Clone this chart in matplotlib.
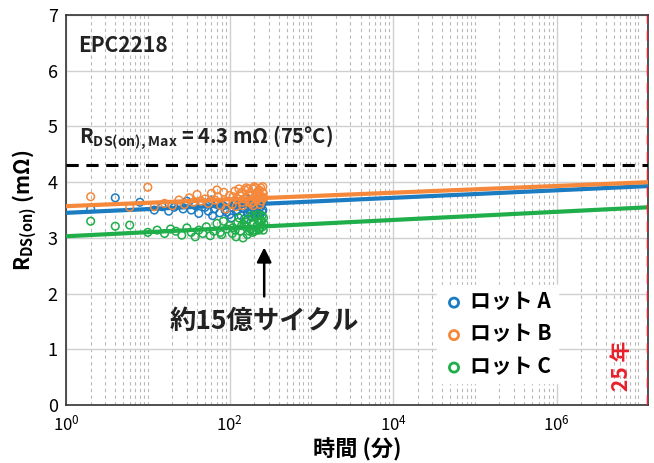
import matplotlib
matplotlib.use("Agg")
import matplotlib.pyplot as plt
from matplotlib.ticker import LogLocator, FixedLocator, NullFormatter

plt.rcParams['font.family'] = ['Noto Sans CJK JP', 'DejaVu Sans']
plt.rcParams['mathtext.default'] = 'regular'

# Measured data (time in minutes, RDS(on) in mOhm)
lot_a_x = [2, 4, 8, 12, 15, 18, 21, 24, 27, 30, 34, 38, 42, 46, 50, 55, 60, 65, 70, 76,
           82, 88, 95, 100, 108, 115, 122, 130, 138, 146, 155, 165, 175, 185, 195, 205, 215, 225, 235, 245,
           255, 62, 72, 92, 118, 142, 168, 198, 228, 250,
           105, 125, 135, 160, 180, 190, 210, 220, 240, 258, 112, 152, 172, 202, 232]
lot_a_y = [3.52, 3.72, 3.64, 3.50, 3.56, 3.48, 3.55, 3.60, 3.52, 3.66, 3.50, 3.58, 3.44, 3.62, 3.55, 3.48, 3.68, 3.52, 3.60, 3.45,
           3.58, 3.50, 3.64, 3.42, 3.55, 3.66, 3.48, 3.58, 3.40, 3.62, 3.52, 3.45, 3.60, 3.38, 3.55, 3.65, 3.48, 3.58, 3.42, 3.62,
           3.50, 3.40, 3.62, 3.46, 3.60, 3.54, 3.44, 3.66, 3.52, 3.47,
           3.36, 3.50, 3.64, 3.70, 3.46, 3.62, 3.38, 3.68, 3.56, 3.64, 3.60, 3.34, 3.52, 3.44, 3.70]

lot_b_x = [2, 6, 10, 12, 16, 20, 24, 28, 32, 36, 40, 45, 50, 55, 60, 66, 72, 78, 85, 92,
           100, 108, 116, 125, 134, 144, 154, 164, 174, 184, 194, 204, 214, 224, 234, 244, 254, 262, 150, 170,
           190, 210, 230, 250, 120, 90, 70,
           140, 160, 180, 200, 220, 240, 258, 145, 175, 205, 235, 255, 110, 130, 195, 215]
lot_b_y = [3.74, 3.55, 3.91, 3.56, 3.62, 3.58, 3.68, 3.60, 3.72, 3.64, 3.78, 3.66, 3.70, 3.62, 3.80, 3.68, 3.74, 3.58, 3.82, 3.66,
           3.76, 3.60, 3.84, 3.70, 3.78, 3.64, 3.86, 3.72, 3.80, 3.62, 3.88, 3.74, 3.68, 3.84, 3.76, 3.66, 3.82, 3.72, 3.70, 3.88,
           3.64, 3.80, 3.86, 3.74, 3.56, 3.52, 3.86,
           3.82, 3.90, 3.76, 3.92, 3.70, 3.90, 3.80, 3.58, 3.66, 3.90, 3.60, 3.92, 3.74, 3.88, 3.58, 3.78]

lot_c_x = [2, 4, 6, 10, 13, 16, 19, 22, 26, 30, 34, 38, 42, 47, 52, 58, 64, 70, 77, 84,
           92, 100, 108, 117, 126, 136, 146, 157, 168, 180, 192, 204, 216, 228, 240, 252, 262, 80, 110, 150,
           200, 245,
           130, 160, 175, 185, 195, 210, 220, 235, 250, 258, 140, 165, 225, 260, 120]
lot_c_y = [3.30, 3.21, 3.23, 3.10, 3.14, 3.08, 3.16, 3.12, 3.05, 3.18, 3.10, 3.02, 3.14, 3.08, 3.20, 3.04, 3.12, 3.26, 3.10, 3.30,
           3.16, 3.22, 3.08, 3.14, 3.28, 3.12, 3.00, 3.20, 3.34, 3.16, 3.10, 3.38, 3.22, 3.14, 3.32, 3.20, 3.26, 3.06, 3.18, 3.24,
           3.12, 3.30,
           3.36, 3.28, 3.12, 3.40, 3.24, 3.14, 3.42, 3.18, 3.40, 3.14, 3.22, 3.06, 3.30, 3.36, 3.02]

# Fitted trend lines (endpoints)
fit_x = [1, 1.314e7]
fit_a = [3.45, 3.93]
fit_b = [3.57, 4.00]
fit_c = [3.03, 3.55]

rds_max = 4.3
t_25years = 1.314e7
cycles_x = 265

blue = '#1b7cc2'
orange = '#f5883a'
green = '#1fae4a'
red = '#e8202a'

fig = plt.figure(figsize=(6.54, 4.63), dpi=100)
ax = fig.add_axes([0.101, 0.125, 0.89, 0.8426])

ax.set_xscale('log')
ax.set_xlim(1, t_25years)
ax.set_ylim(0, 7)

ax.xaxis.set_major_locator(FixedLocator([1, 1e2, 1e4, 1e6]))
ax.xaxis.set_minor_locator(LogLocator(base=10, subs=range(1, 10), numticks=30))
ax.xaxis.set_minor_formatter(NullFormatter())
ax.set_xticks([1, 1e2, 1e4, 1e6])
ax.set_xticklabels([r'$10^0$', r'$10^2$', r'$10^4$', r'$10^6$'])
ax.set_yticks(range(0, 8))
ax.tick_params(axis='both', which='both', length=0, labelsize=12)
ax.tick_params(axis='x', pad=7)
ax.tick_params(axis='y', labelsize=13, pad=6)

ax.grid(True, which='major', axis='both', color='#d0d0d0', lw=1.0)
ax.grid(True, which='minor', axis='x', color='#b8b8b8', lw=0.8, ls=(0, (3, 3)))
ax.set_axisbelow(True)
for s in ax.spines.values():
    s.set_color('#333333')
    s.set_linewidth(1.2)

mk = dict(marker='o', facecolors='none', s=30, linewidths=1.1)
ax.scatter(lot_a_x, lot_a_y, edgecolors=blue, zorder=3, **mk)
ax.scatter(lot_c_x, lot_c_y, edgecolors=green, zorder=3, **mk)
ax.plot(fit_x, fit_a, color=blue, lw=3, zorder=4)
ax.plot(fit_x, fit_c, color=green, lw=3, zorder=4)
ax.scatter(lot_b_x, lot_b_y, edgecolors=orange, zorder=5, **mk)
ax.plot(fit_x, fit_b, color=orange, lw=3, zorder=5)

ax.axhline(rds_max, color='black', lw=2.2, ls=(0, (4, 2.5)), zorder=6)
ax.axvline(t_25years, color=red, lw=2.5, ls=(0, (3, 2)), zorder=6)

ax.text(0.02, 0.95, 'EPC2218', transform=ax.transAxes, fontsize=15,
        fontweight='bold', va='top', ha='left', color='#222222')
ax.text(0.022, 0.686, r'R$_{DS(on),Max}$ = 4.3 mΩ (75°C)', transform=ax.transAxes,
        fontsize=14.5, fontweight='bold', va='center', ha='left', color='#222222')

ax.annotate('', xy=(cycles_x, 2.88), xytext=(cycles_x, 1.9),
            arrowprops=dict(arrowstyle='-|>', color='black', lw=1.8,
                            mutation_scale=22), zorder=7)
ax.text(cycles_x, 1.5, '約15億サイクル', fontsize=19, fontweight='bold',
        ha='center', va='center', color='#222222', zorder=7)

ax.text(0.955, 0.1, '25 年', transform=ax.transAxes, rotation=90, color=red,
        fontsize=15, fontweight='bold', ha='center', va='center')

ax.scatter([], [], edgecolors=blue, label='ロット A', **mk)
ax.scatter([], [], edgecolors=orange, label='ロット B', **mk)
ax.scatter([], [], edgecolors=green, label='ロット C', **mk)
leg = ax.legend(loc='upper left', bbox_to_anchor=(0.62, 0.335), frameon=True,
                fancybox=False, framealpha=1, edgecolor='white',
                prop={'weight': 'bold', 'size': 15}, handletextpad=0.25,
                handlelength=1.0, labelspacing=0.55, borderpad=0.3,
                markerscale=1.2)
for h in leg.legend_handles:
    h.set_linewidth(2)

ax.set_xlabel('時間 (分)', fontsize=16, fontweight='bold', labelpad=2)
ax.set_ylabel(r'R$_{DS(on)}$ (mΩ)', fontsize=15, fontweight='bold', labelpad=6)

fig.savefig('out.png', dpi=100)
